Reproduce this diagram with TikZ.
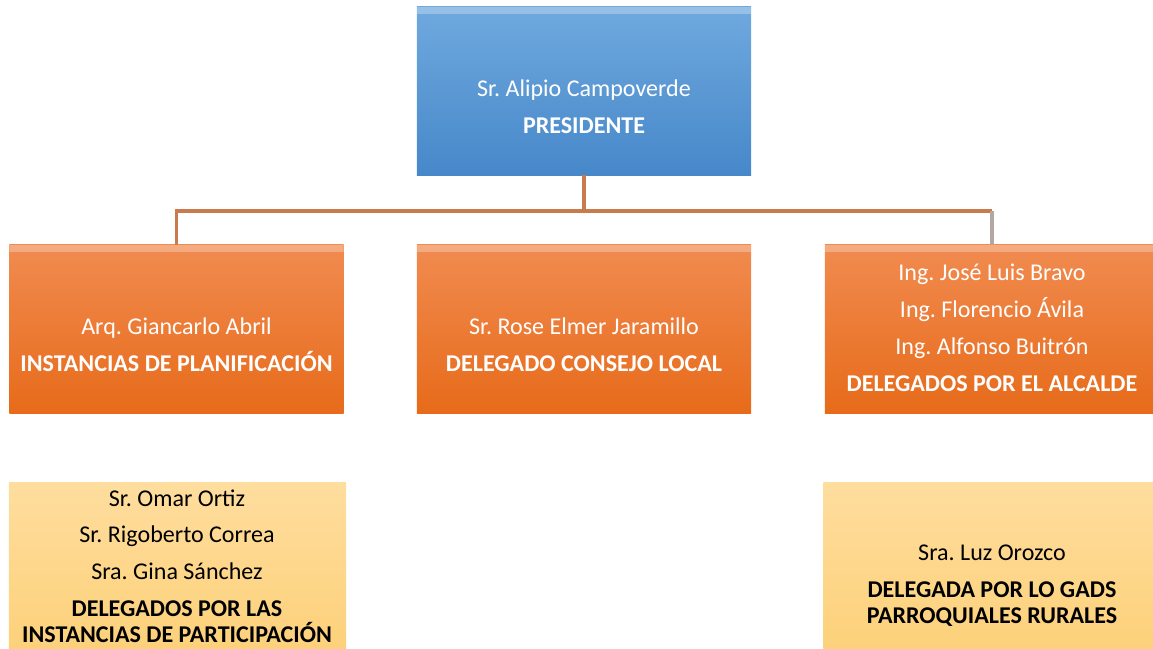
\documentclass[tikz,border=0pt]{standalone}
\usepackage{fontspec}
\setmainfont{Carlito}
\usepackage{tikz}
\usetikzlibrary{arrows.meta}
\frenchspacing

\definecolor{blueTop}{HTML}{6FA9DE}
\definecolor{blueBot}{HTML}{4788CA}
\definecolor{orgTop}{HTML}{F18B50}
\definecolor{orgBot}{HTML}{E76B1A}
\definecolor{ylwTop}{HTML}{FEDD9E}
\definecolor{ylwBot}{HTML}{FDD17A}
\definecolor{connBrown}{HTML}{C97B4E}
\definecolor{connGray}{HTML}{B4A79F}

\begin{document}
\begin{tikzpicture}[x=0.025cm, y=-0.025cm,
        bevel/.style={path picture={\fill[white, opacity=.28] (path picture bounding box.north west) rectangle ([yshift=-5pt]path picture bounding box.north east);}},
        bluebox/.style={rectangle, minimum width=8.35cm, minimum height=4.2cm, inner sep=0, top color=blueTop, bottom color=blueBot, bevel},
        orgbox/.style={rectangle, minimum width=8.35cm, minimum height=4.2cm, inner sep=0, top color=orgTop, bottom color=orgBot, bevel},
        ylwbox/.style={rectangle, minimum width=8.425cm, minimum height=4.2cm, inner sep=0, top color=ylwTop, bottom color=ylwBot},
        lighttxt/.style={text=white, align=center, font=\fontsize{17.1}{26.2}\selectfont, inner sep=0},
        darktxt/.style={text=black, align=center, font=\fontsize{17.1}{26.2}\selectfont, inner sep=0},
        conn/.style={line width=2.2pt, connBrown}]
                \useasboundingbox (0,0) rectangle (1153,649);

                \node[bluebox](pres) at (584,91) {};
                \node[orgbox](plan) at (176.5,329) {};
                \node[orgbox](consejo) at (584,329) {};
                \node[orgbox](alcalde) at (992,329) {};
                \node[ylwbox](partic) at (177.5,567) {};
                \node[ylwbox](gads) at (992,567) {};

                \node[lighttxt](presT) at (584,107) {Sr. Alipio Campoverde\\\textbf{PRESIDENTE}};
                \node[lighttxt](planT) at (176.5,345) {Arq. Giancarlo Abril\\\textbf{INSTANCIAS DE PLANIFICACIÓN}};
                \node[lighttxt](consejoT) at (584,345) {Sr. Rose Elmer Jaramillo\\\textbf{DELEGADO CONSEJO LOCAL}};
                \node[lighttxt](alcaldeT) at (992,328) {Ing. José Luis Bravo\\Ing. Florencio Ávila\\Ing. Alfonso Buitrón\\\textbf{DELEGADOS POR EL ALCALDE}};
                \node[darktxt](particT) at (177,566) {Sr. Omar Ortiz\\Sr. Rigoberto Correa\\Sra. Gina Sánchez\\\textbf{DELEGADOS POR LAS}\\[-7.8pt]\textbf{INSTANCIAS DE PARTICIPACIÓN}};
                \node[darktxt](gadsT) at (992,586) {Sra. Luz Orozco\\\textbf{DELEGADA POR LO GADS}\\[-7.8pt]\textbf{PARROQUIALES RURALES}};

                \coordinate (bus) at (584,211);
                                \draw[conn] (pres.south) -- (bus);
                                \draw[conn] (plan.north) |- (bus) -- (bus -| alcalde.north);
                                \draw[conn, connGray] (bus -| alcalde.north) -- (alcalde.north);

                   \end{tikzpicture}
\end{document}
